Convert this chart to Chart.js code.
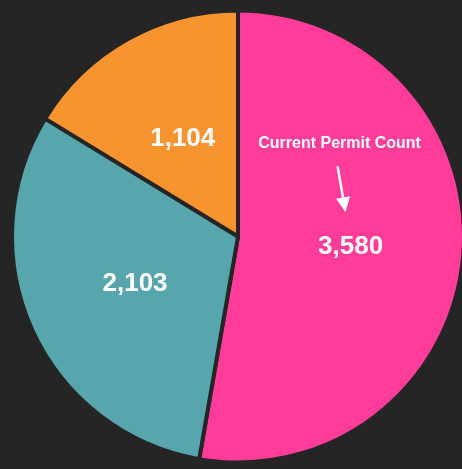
<!DOCTYPE html>
<html>
<head>
<meta charset="utf-8">
<script src="https://cdn.jsdelivr.net/npm/chart.js@4.4.0/dist/chart.umd.min.js"></script>
<style>
html,body{margin:0;padding:0;background:#252525;overflow:hidden;width:462px;height:469px;}
#wrap{width:466px;height:469px;position:relative;}
</style>
</head>
<body>
<div id="wrap"><canvas id="c"></canvas></div>
<script>
const categories = ["Current Permits", "Group B", "Group C"];
const values = [3580, 2103, 1104];
const valueLabels = ["3,580", "2,103", "1,104"];
const sliceColors = ["#FF3C99", "#57A6AD", "#F7942F"];
const annotationText = "Current Permit Count";

const labelPlugin = {
  id: 'sliceLabels',
  afterDatasetsDraw(chart) {
    const ctx = chart.ctx;
    const meta = chart.getDatasetMeta(0);
    ctx.save();
    ctx.fillStyle = '#FFFFFF';
    ctx.textAlign = 'center';
    ctx.textBaseline = 'middle';
    ctx.font = 'bold 26px "Liberation Sans", Arial, sans-serif';
    meta.data.forEach((arc, i) => {
      const p = arc.tooltipPosition();
      ctx.fillText(valueLabels[i], p.x, p.y + 1);
    });
    // annotation relative to first slice label
    const p0 = meta.data[0].tooltipPosition();
    ctx.font = 'bold 16px "Liberation Sans", Arial, sans-serif';
    ctx.fillText(annotationText, p0.x - 11, p0.y - 103);
    // arrow
    const x1 = p0.x - 13, y1 = p0.y - 80;
    const x2 = p0.x - 5, y2 = p0.y - 34;
    const ang = Math.atan2(y2 - y1, x2 - x1);
    const headLen = 15, headW = 7;
    const bx = x2 - headLen * Math.cos(ang), by = y2 - headLen * Math.sin(ang);
    ctx.strokeStyle = '#FFFFFF';
    ctx.lineWidth = 2.5;
    ctx.beginPath();
    ctx.moveTo(x1, y1);
    ctx.lineTo(bx, by);
    ctx.stroke();
    ctx.beginPath();
    ctx.moveTo(x2, y2);
    ctx.lineTo(bx + headW * Math.sin(ang), by - headW * Math.cos(ang));
    ctx.lineTo(bx - headW * Math.sin(ang), by + headW * Math.cos(ang));
    ctx.closePath();
    ctx.fill();
    ctx.restore();
  }
};

new Chart(document.getElementById('c'), {
  type: 'pie',
  data: {
    labels: categories,
    datasets: [{
      data: values,
      backgroundColor: sliceColors,
      borderColor: '#252525',
      borderWidth: 4
    }]
  },
  options: {
    responsive: true,
    maintainAspectRatio: false,
    animation: false,
    layout: { padding: { left: 10, right: 0, top: 8.5, bottom: 4.5 } },
    plugins: { legend: { display: false }, tooltip: { enabled: false } }
  },
  plugins: [labelPlugin]
});
</script>
</body>
</html>
